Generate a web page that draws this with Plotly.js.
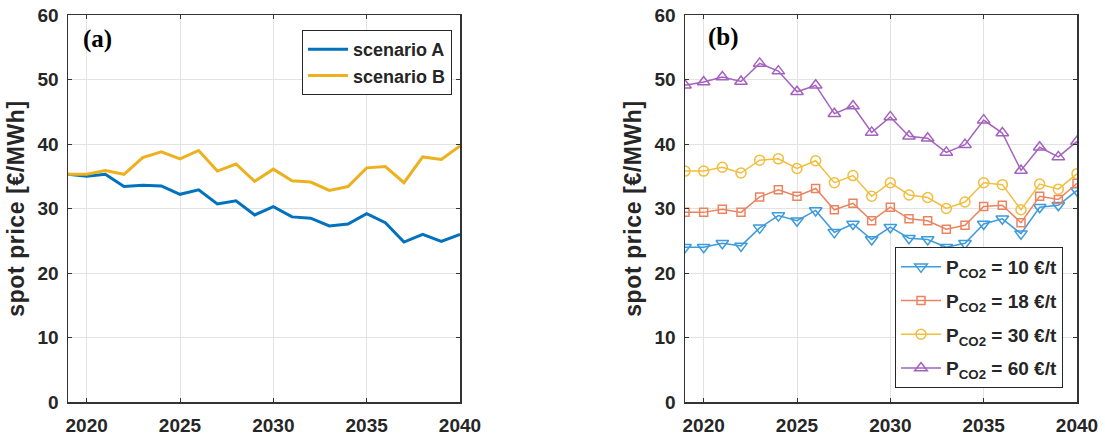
<!DOCTYPE html>
<html>
<head>
<meta charset="utf-8">
<script src="https://cdn.plot.ly/plotly-3.0.1.min.js"></script>
<style>
html,body{margin:0;padding:0;background:#fff;}
#chart{width:1105px;height:438px;}
#chart .g-ytitle text, #chart .g-y2title text{letter-spacing:0.6px;}
</style>
</head>
<body>
<div id="chart"></div>
<script>
const years = [2019,2020,2021,2022,2023,2024,2025,2026,2027,2028,2029,2030,2031,2032,2033,2034,2035,2036,2037,2038,2039,2040];
const scenarioA = [35.3,35.0,35.3,33.4,33.6,33.5,32.2,32.9,30.7,31.2,29.0,30.3,28.7,28.5,27.3,27.6,29.2,27.8,24.8,26.0,24.9,26.0];
const scenarioB = [35.3,35.3,35.9,35.3,37.9,38.8,37.7,39.0,35.8,36.9,34.2,36.1,34.3,34.1,32.8,33.4,36.3,36.5,34.0,38.0,37.6,39.7];
const pco2_10 = [24.0,24.0,24.6,24.2,27.0,28.9,28.1,29.7,26.3,27.6,25.2,27.1,25.4,25.2,24.0,24.6,27.6,28.4,26.1,30.2,30.5,32.8];
const pco2_18 = [29.4,29.4,29.9,29.4,31.8,32.9,31.9,33.1,29.8,30.8,28.1,30.2,28.4,28.1,26.8,27.4,30.3,30.5,27.8,31.9,31.4,33.9];
const pco2_30 = [35.8,35.8,36.4,35.5,37.5,37.7,36.2,37.4,34.0,35.1,31.9,34.0,32.1,31.7,30.0,31.0,34.0,33.7,29.8,33.8,33.0,35.4];
const pco2_60 = [49.1,49.6,50.4,49.7,52.5,51.3,48.1,49.1,44.7,45.9,41.8,44.2,41.2,40.9,38.7,39.9,43.7,41.7,35.9,39.5,38.0,40.4];

const xTicks = [2020,2025,2030,2035,2040];
const yTicks = [0,10,20,30,40,50,60];
const yTitle = 'spot price [€/MWh]';
const legendA = ['scenario A','scenario B'];
const legendB = ['P<sub>CO2</sub> = 10 €/t','P<sub>CO2</sub> = 18 €/t','P<sub>CO2</sub> = 30 €/t','P<sub>CO2</sub> = 60 €/t'];

const FONT = 'Liberation Sans, Arial, Helvetica, sans-serif';
const TXT = '#262626';

const traces = [
  {x: years, y: scenarioA, name: legendA[0], type:'scatter', mode:'lines', line:{color:'#0072BD', width:3}, xaxis:'x', yaxis:'y', legend:'legend'},
  {x: years, y: scenarioB, name: legendA[1], type:'scatter', mode:'lines', line:{color:'#EDB120', width:3}, xaxis:'x', yaxis:'y', legend:'legend'},
  {x: years, y: pco2_10, name: legendB[0], type:'scatter', mode:'lines+markers', line:{color:'#3D9BDB', width:1.5}, marker:{symbol:'triangle-down-open', size:11, line:{width:1.5, color:'#3D9BDB'}}, xaxis:'x2', yaxis:'y2', legend:'legend2', legendgroup:'g1'},
  {x: years, y: pco2_18, name: legendB[1], type:'scatter', mode:'lines+markers', line:{color:'#EA8460', width:1.5}, marker:{symbol:'square-open', size:8, line:{width:1.5, color:'#EA8460'}}, xaxis:'x2', yaxis:'y2', legend:'legend2', legendgroup:'g2'},
  {x: years, y: pco2_30, name: legendB[2], type:'scatter', mode:'lines+markers', line:{color:'#F1BE3E', width:1.5}, marker:{symbol:'circle-open', size:10, line:{width:1.5, color:'#F1BE3E'}}, xaxis:'x2', yaxis:'y2', legend:'legend2', legendgroup:'g3'},
  {x: years, y: pco2_60, name: legendB[3], type:'scatter', mode:'lines+markers', line:{color:'#A462BE', width:1.5}, marker:{symbol:'triangle-up-open', size:11, line:{width:1.5, color:'#A462BE'}}, xaxis:'x2', yaxis:'y2', legend:'legend2', legendgroup:'g4'}
];

function xax(domain, anchor){
  return {domain: domain, anchor: anchor, range:[2019,2040], tickvals: xTicks, ticktext: xTicks.map(String),
    showgrid:true, gridcolor:'#E3E3E3', gridwidth:1, zeroline:false,
    showline:true, mirror:'ticks', linecolor:'#333333', linewidth:1.5,
    ticks:'inside', ticklen:4, tickcolor:'#333333', ticklabelstandoff:6,
    tickfont:{family:FONT, size:19, color:TXT, weight:'bold'}, fixedrange:true};
}
function yax(anchor){
  return {domain:[1-402/438, 1-15/438], anchor: anchor, range:[0,60], tickvals: yTicks, ticktext: yTicks.map(String),
    showgrid:true, gridcolor:'#E3E3E3', gridwidth:1, zeroline:false,
    showline:true, mirror:'ticks', linecolor:'#333333', linewidth:1.5,
    ticks:'inside', ticklen:4, tickcolor:'#333333', ticklabelstandoff:4,
    tickfont:{family:FONT, size:19, color:TXT, weight:'bold'},
    title:{text: yTitle, font:{family:FONT, size:23, color:TXT, weight:'bold'}, standoff:6}, fixedrange:true};
}

const layout = {
  width:1105, height:438,
  margin:{l:0, r:0, t:0, b:0, autoexpand:false},
  paper_bgcolor:'#ffffff', plot_bgcolor:'#ffffff',
  showlegend:true,
  xaxis: xax([68/1105, 460/1105], 'y'),
  yaxis: yax('x'),
  xaxis2: xax([685/1105, 1077/1105], 'y2'),
  yaxis2: yax('x2'),
  legend: {x:452/1105, y:1-30/438, xanchor:'right', yanchor:'top', bgcolor:'#ffffff', bordercolor:'#262626', borderwidth:1,
    font:{family:FONT, size:18, color:TXT, weight:'bold'}, itemwidth:40},
  legend2: {x:1063/1105, y:1-388/438, xanchor:'right', yanchor:'bottom', bgcolor:'#ffffff', bordercolor:'#262626', borderwidth:1,
    font:{family:FONT, size:19, color:TXT, weight:'bold'}, itemwidth:40, tracegroupgap:6},
  annotations:[
    {text:'(a)', xref:'paper', yref:'paper', x:81/1105, y:1-39/438, xanchor:'left', yanchor:'middle', showarrow:false,
      font:{family:'Liberation Serif, Times New Roman, serif', size:25, color:'#000', weight:'bold'}},
    {text:'(b)', xref:'paper', yref:'paper', x:706/1105, y:1-37/438, xanchor:'left', yanchor:'middle', showarrow:false,
      font:{family:'Liberation Serif, Times New Roman, serif', size:25, color:'#000', weight:'bold'}}
  ]
};

Plotly.newPlot('chart', traces, layout, {displayModeBar:false, staticPlot:true});
</script>
</body>
</html>
